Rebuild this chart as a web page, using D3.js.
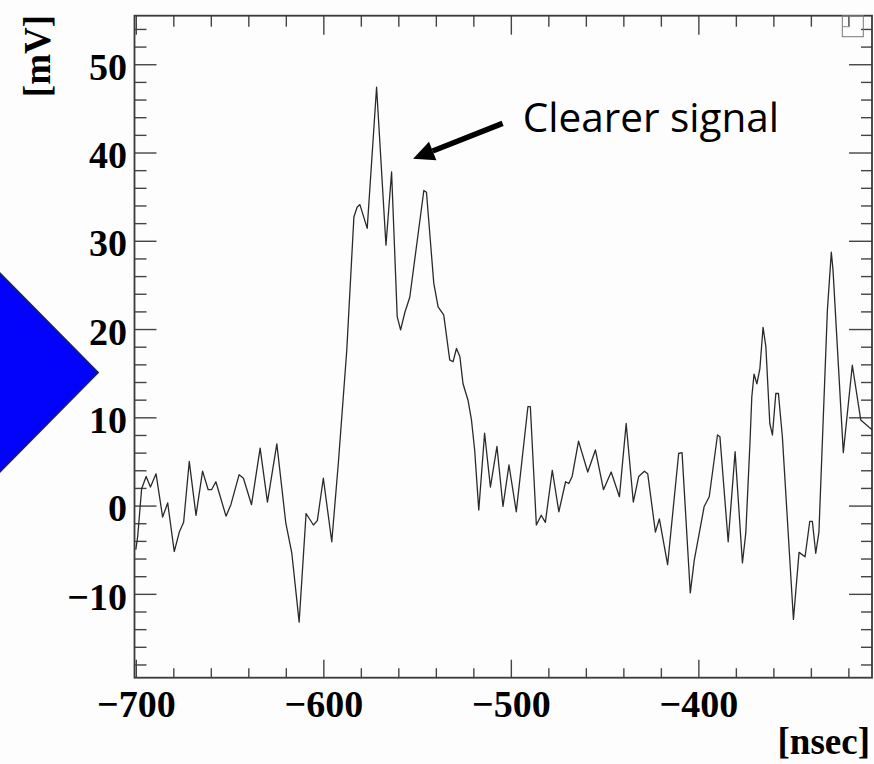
<!DOCTYPE html>
<html>
<head>
<meta charset="utf-8">
<script src="https://cdn.jsdelivr.net/npm/d3@7"></script>
<style>
  html, body { margin: 0; padding: 0; background: #fdfdfd; }
  svg { display: block; }
</style>
</head>
<body>
<div id="chart"></div>
<script>
// Waveform trace: time [nsec] and amplitude [mV]
const times = [
  -700, -699.0, -696.9, -694.5, -692.2, -689.2, -685.7, -683.0, -679.5, -676.8,
  -674.5, -671.5, -667.9, -664.4, -661.4, -659.6, -657.3, -651.9, -649.3, -644.9,
  -642.6, -638.3, -633.7, -629.8, -624.8, -620.0, -616.8, -612.9, -609.2, -605.3,
  -603.2, -600.0, -595.5, -592.0, -587.5, -583.7, -582.0, -580.5, -576.6, -571.6,
  -566.6, -563.6, -560.6, -558.8, -556.5, -553.9, -546.4, -545.0, -541.1, -538.8,
  -535.8, -532.6, -530.8, -529.0, -527.2, -525.5, -522.8, -521.0, -519.3, -517.1,
  -514.0, -510.9, -507.4, -504.2, -501.0, -497.1, -490.9, -489.6, -486.4, -483.8,
  -481.6, -477.9, -474.4, -470.8, -469.1, -467.3, -463.9, -459.0, -454.9, -450.6,
  -446.5, -442.1, -438.5, -434.7, -431.8, -428.8, -427.0, -422.9, -420.8, -416.4,
  -410.5, -408.7, -404.3, -402.2, -396.9, -394.2, -389.8, -388.5, -384.1, -380.4,
  -376.5, -374.7, -372.5, -371.5, -370.3, -368.8, -367.2, -365.5, -364.0, -361.9,
  -360.5, -358.7, -357.3, -355.2, -349.3, -346.3, -343.1, -340.6, -339.2, -337.4,
  -335.7, -331.2, -329.1, -328.2, -322.7, -317.9, -313.4, -309.1, -307.4
];
const mv = [
  -5.0, -3.5, 1.9, 3.3, 2.1, 3.6, -1.3, 0.3, -5.2, -3.0,
  -1.9, 5.0, -1.1, 3.9, 1.8, 1.8, 2.7, -1.2, 0.1, 3.5,
  3.1, 0.1, 6.5, 0.4, 7.0, -2.0, -5.4, -13.2, -0.9, -2.2,
  -1.7, 3.1, -4.1, 4.8, 17.6, 32.7, 33.8, 34.1, 31.4, 47.4,
  29.5, 37.8, 21.4, 19.9, 21.9, 23.6, 35.7, 35.5, 25.2, 22.5,
  21.6, 16.5, 16.3, 17.8, 16.9, 13.8, 11.9, 9.7, 6.3, -0.5,
  8.2, 2.1, 6.7, -0.1, 4.6, -0.7, 11.2, 11.2, -2.2, -1.1,
  -1.9, 4.0, -0.7, 2.7, 2.5, 3.3, 7.3, 3.8, 6.3, 1.8,
  3.8, 1.0, 9.3, 0.4, 3.3, 3.9, 3.6, -3.0, -1.5, -6.7,
  5.9, 6.0, -9.9, -6.2, -0.1, 1.0, 8.0, 7.8, -4.1, 6.1,
  -6.5, -3.1, 7.0, 12.3, 14.9, 13.8, 15.5, 20.2, 18.0, 9.3,
  8.0, 12.7, 12.7, 7.8, -12.9, -5.3, -5.8, -1.8, -1.8, -5.4,
  -3.0, 22.1, 28.7, 26.7, 6.0, 15.9, 9.7, 8.9, 8.6
];

const xMajor = [-700, -600, -500, -400];
const yMajor = [-10, 0, 10, 20, 30, 40, 50];
const xLabel = '[nsec]';
const yLabel = '[mV]';
const noteText = 'Clearer signal';

const width = 874, height = 764;
const frame = { left: 134.5, right: 872, top: 15.7, bottom: 677.7 };

const svg = d3.select('#chart').append('svg')
  .attr('width', width)
  .attr('height', height);

// blue diamond pointer on the left edge
svg.append('polygon')
  .attr('points', [[-12, 261], [98, 372.5], [-12, 484]].map(p => p.join(',')).join(' '))
  .attr('fill', '#0303fb')
  .attr('stroke', '#15206a')
  .attr('stroke-width', 1.8);

const x = d3.scaleLinear().domain([-700.7, -307.4]).range([frame.left, frame.right]);
const y = d3.scaleLinear().domain([-19.5, 55.5]).range([frame.bottom, frame.top]);

const xMinor = d3.range(-700, -300, 20).filter(v => !xMajor.includes(v));
const yMinor = d3.range(-18, 56, 2).filter(v => !yMajor.includes(v));

const tickColor = '#444';
const labelFont = '"Liberation Serif", "Times New Roman", serif';

function styleAxis(g) {
  g.select('.domain').remove();
  g.selectAll('line').attr('stroke', tickColor).attr('stroke-width', 1.4);
}

// bottom
svg.append('g').attr('transform', `translate(0,${frame.bottom})`)
  .call(d3.axisBottom(x).tickValues(xMinor).tickSize(-9.5).tickFormat(''))
  .call(styleAxis);
svg.append('g').attr('transform', `translate(0,${frame.bottom})`)
  .call(d3.axisBottom(x).tickValues(xMajor).tickSize(-18).tickPadding(12.5))
  .call(styleAxis)
  .call(g => g.selectAll('text')
    .attr('font-family', labelFont).attr('font-weight', 'bold')
    .attr('font-size', 38).attr('fill', '#000'));
// top
svg.append('g').attr('transform', `translate(0,${frame.top})`)
  .call(d3.axisTop(x).tickValues(xMinor).tickSize(-11).tickFormat(''))
  .call(styleAxis);
svg.append('g').attr('transform', `translate(0,${frame.top})`)
  .call(d3.axisTop(x).tickValues(xMajor).tickSize(-19).tickFormat(''))
  .call(styleAxis);
// left
svg.append('g').attr('transform', `translate(${frame.left},0)`)
  .call(d3.axisLeft(y).tickValues(yMinor).tickSize(-12).tickFormat(''))
  .call(styleAxis);
svg.append('g').attr('transform', `translate(${frame.left},0)`)
  .call(d3.axisLeft(y).tickValues(yMajor).tickSize(-22).tickPadding(7.5))
  .call(styleAxis)
  .call(g => g.selectAll('text')
    .attr('font-family', labelFont).attr('font-weight', 'bold')
    .attr('font-size', 38).attr('fill', '#000').attr('dy', '0.4em'));
// right
svg.append('g').attr('transform', `translate(${frame.right},0)`)
  .call(d3.axisRight(y).tickValues(yMinor).tickSize(-11).tickFormat(''))
  .call(styleAxis);
svg.append('g').attr('transform', `translate(${frame.right},0)`)
  .call(d3.axisRight(y).tickValues(yMajor).tickSize(-23).tickFormat(''))
  .call(styleAxis);

// frame
svg.append('rect')
  .attr('x', frame.left).attr('y', frame.top)
  .attr('width', frame.right - frame.left)
  .attr('height', frame.bottom - frame.top)
  .attr('fill', 'none')
  .attr('stroke', '#3a3a3a')
  .attr('stroke-width', 1.8);

// small stats box remnant, top right
svg.append('rect')
  .attr('x', 842.3).attr('y', frame.top)
  .attr('width', 21).attr('height', 21)
  .attr('fill', 'none').attr('stroke', '#777').attr('stroke-width', 1);
svg.append('path')
  .attr('d', `M849.3,${frame.top}V26.7H842.3`)
  .attr('fill', 'none').attr('stroke', '#888').attr('stroke-width', 1);

// trace
svg.append('defs').append('clipPath').attr('id', 'plot-clip')
  .append('rect')
  .attr('x', frame.left).attr('y', frame.top)
  .attr('width', frame.right - frame.left)
  .attr('height', frame.bottom - frame.top);

const trace = times.map((t, i) => [t, mv[i]]);
svg.append('path')
  .datum(trace)
  .attr('clip-path', 'url(#plot-clip)')
  .attr('fill', 'none')
  .attr('stroke', '#2a2a2a')
  .attr('stroke-width', 1.3)
  .attr('stroke-linejoin', 'round')
  .attr('d', d3.line().x(d => x(d[0])).y(d => y(d[1])));

// axis titles
svg.append('text')
  .attr('transform', 'translate(50,15) rotate(-90)')
  .attr('text-anchor', 'end')
  .attr('font-family', labelFont).attr('font-weight', 'bold')
  .attr('font-size', 37)
  .text(yLabel);
svg.append('text')
  .attr('x', 870).attr('y', 754)
  .attr('text-anchor', 'end')
  .attr('font-family', labelFont).attr('font-weight', 'bold')
  .attr('font-size', 37)
  .text(xLabel);

// annotation arrow + text (positioned in data units)
const tip = [x(-552.1), y(39.3)];
const tail = [x(-504.4), y(43.3)];
const ang = Math.atan2(tip[1] - tail[1], tip[0] - tail[0]);
const headLen = 21, headHalf = 10;
const base = [tip[0] - headLen * Math.cos(ang), tip[1] - headLen * Math.sin(ang)];
svg.append('line')
  .attr('x1', tail[0]).attr('y1', tail[1])
  .attr('x2', base[0]).attr('y2', base[1])
  .attr('stroke', '#000').attr('stroke-width', 5.5);
svg.append('polygon')
  .attr('points', [
    tip,
    [base[0] + headHalf * Math.sin(ang), base[1] - headHalf * Math.cos(ang)],
    [base[0] - headHalf * Math.sin(ang), base[1] + headHalf * Math.cos(ang)]
  ].map(p => p.join(',')).join(' '))
  .attr('fill', '#000');

svg.append('text')
  .attr('x', x(-493.7)).attr('y', y(42.3))
  .attr('font-family', '"Open Sans", "Noto Sans", sans-serif')
  .attr('font-size', 40.5)
  .attr('fill', '#000')
  .text(noteText);
</script>
</body>
</html>
